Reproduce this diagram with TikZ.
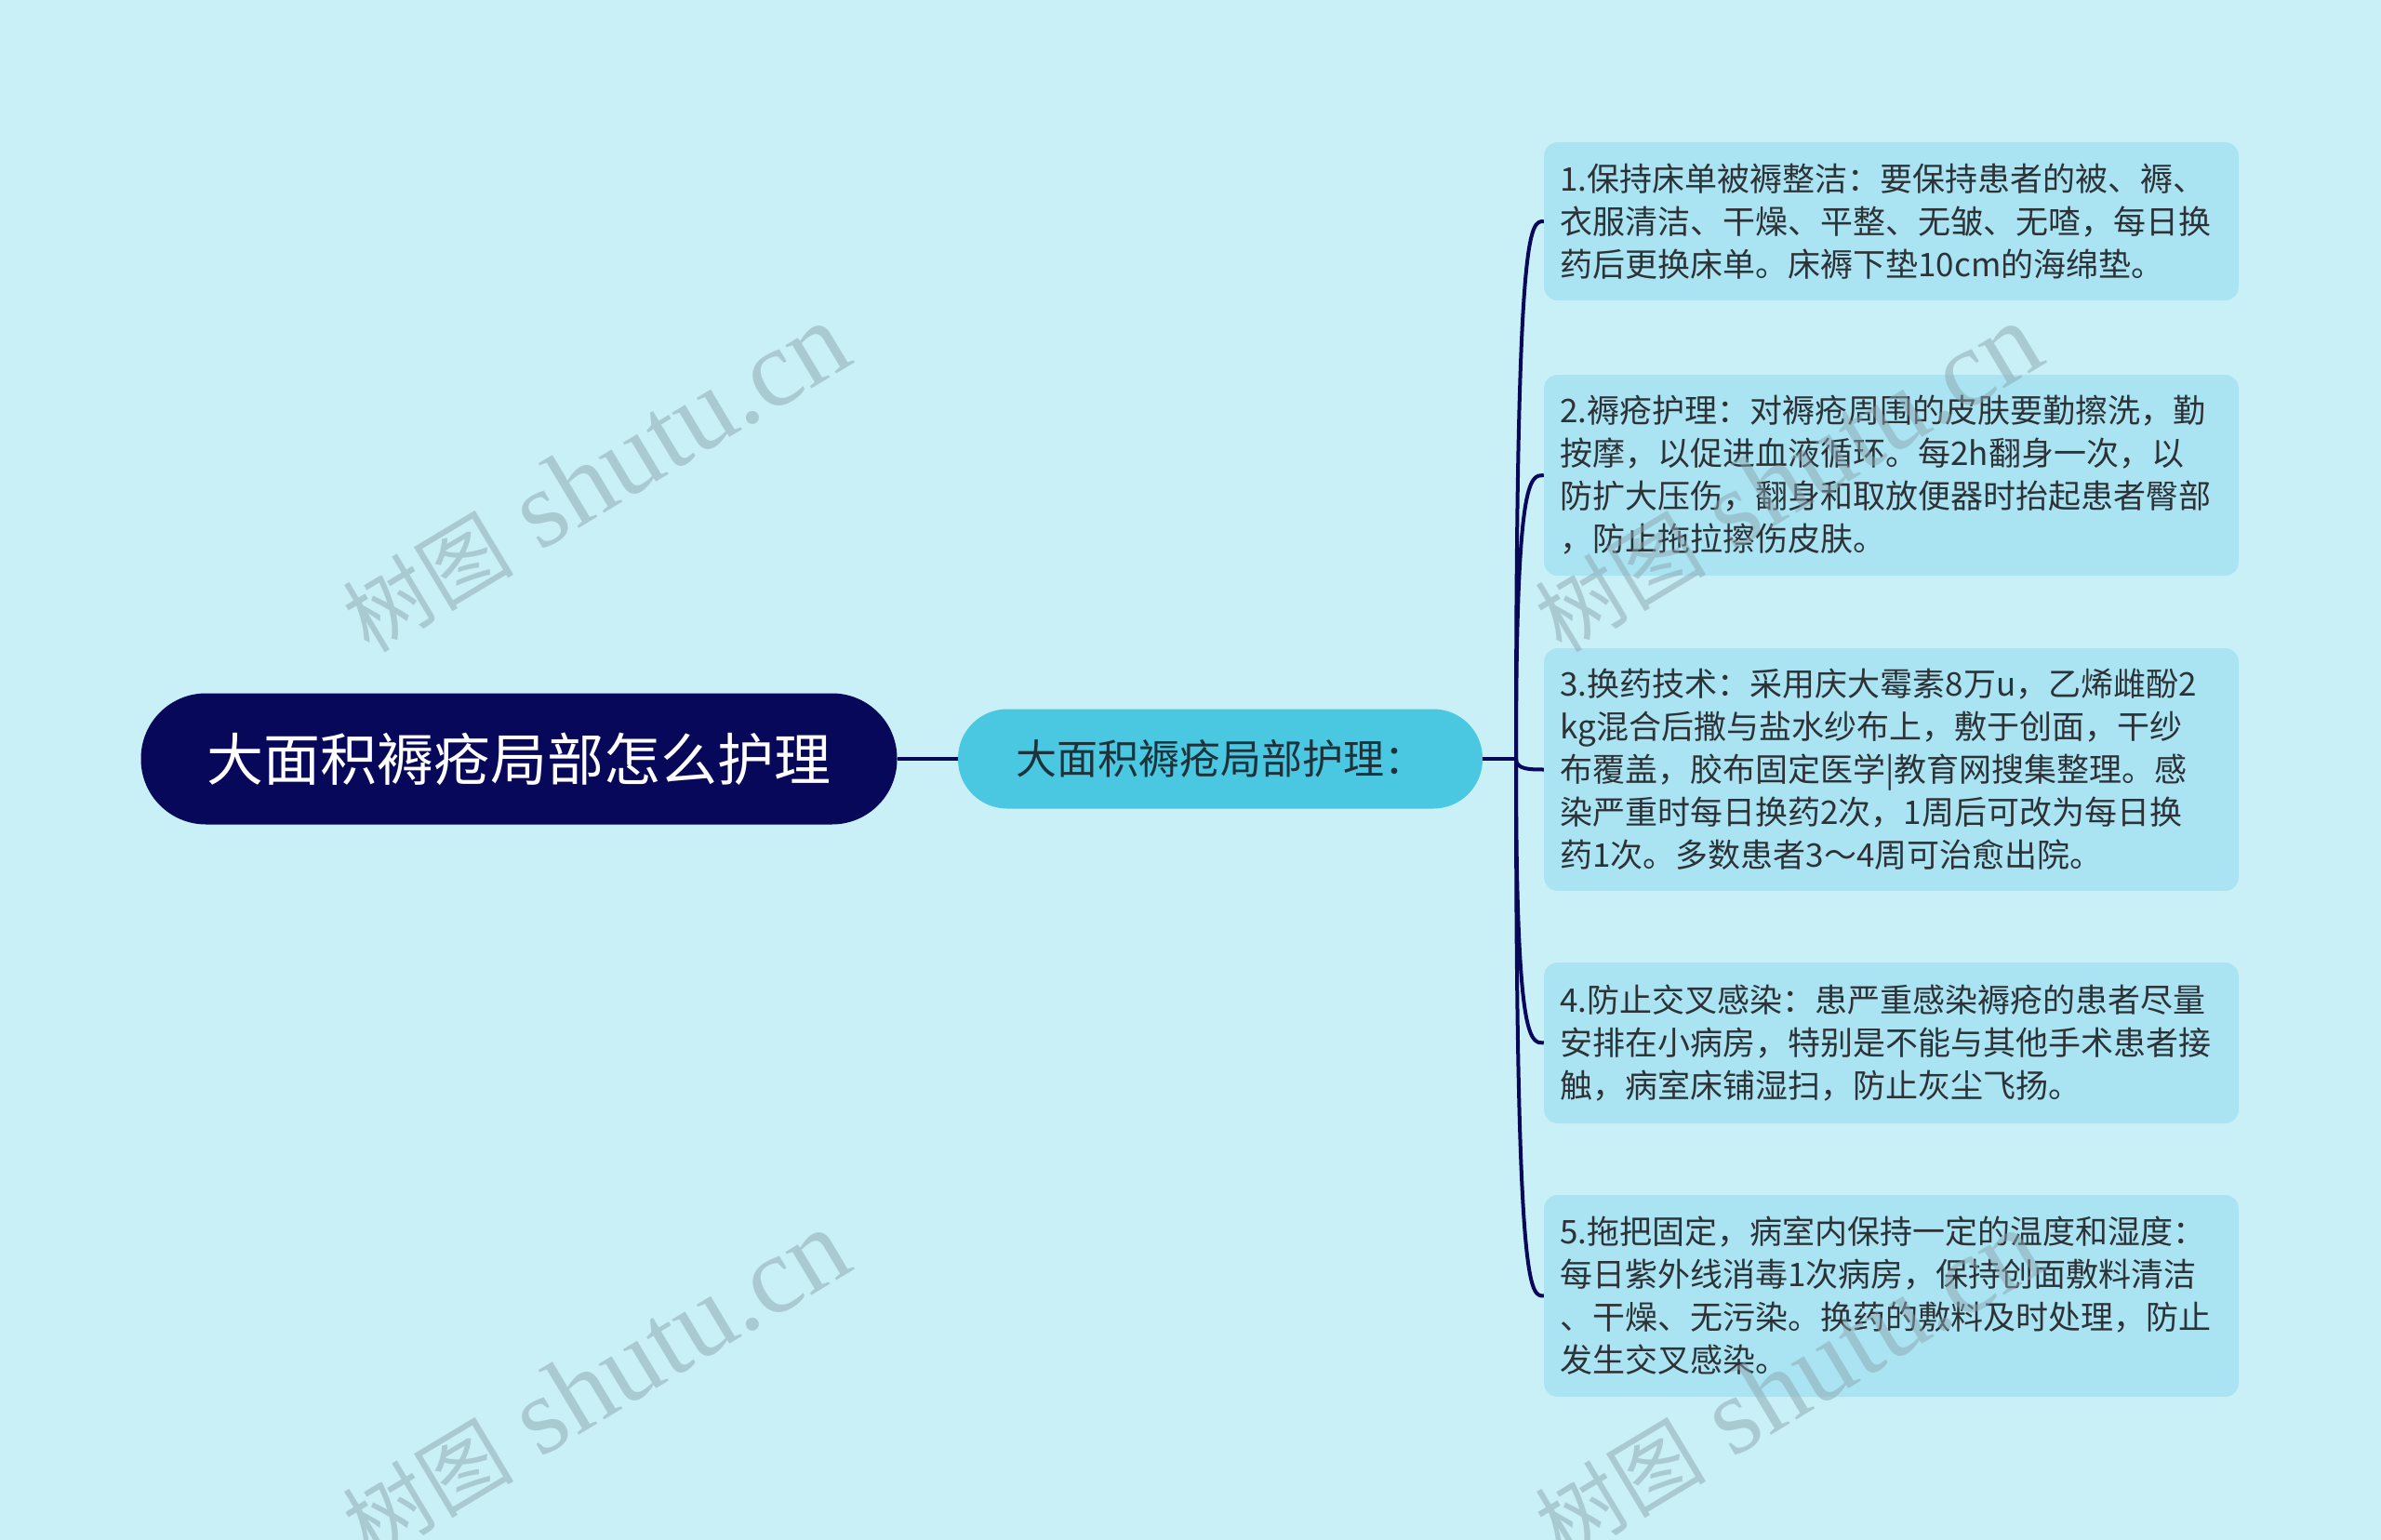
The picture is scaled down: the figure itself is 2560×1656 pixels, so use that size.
\documentclass[tikz,border=0pt]{standalone}
\usepackage{fontspec}
\setmainfont{Liberation Serif}
\newfontfamily\cjk{Noto Sans CJK SC}
\definecolor{bgc}{RGB}{201,240,247}
\definecolor{navy}{RGB}{8,8,90}
\definecolor{brc}{RGB}{74,200,225}
\definecolor{leafc}{RGB}{170,228,242}
\definecolor{txtc}{RGB}{45,50,55}
\definecolor{brtxt}{RGB}{30,50,60}
\definecolor{wmc}{RGB}{140,165,175}
\tikzset{
  rootbox/.style={draw=none, fill=navy, rounded corners=70pt, minimum width=813pt, minimum height=141pt, text=white, font=\cjk\fontsize{61pt}{70pt}\selectfont},
  branchbox/.style={draw=none, fill=brc, rounded corners=53pt, minimum width=564pt, minimum height=107pt, text=brtxt, font=\cjk\fontsize{44pt}{50pt}\selectfont},
  leafbox/.style={draw=none, fill=leafc, rounded corners=15pt, minimum width=747pt, text width=712pt, inner xsep=17.5pt, align=left, text=txtc, font=\cjk\fontsize{35pt}{46pt}\selectfont},
  conn/.style={draw=navy, line width=4pt},
  wmark/.style={text=wmc, text opacity=0.5, rotate=31, font=\fontsize{118pt}{120pt}\selectfont}
}
\begin{document}
\begin{tikzpicture}[x=1pt,y=-1pt]
\fill[bgc] (0,0) rectangle (2560,1656);
\useasboundingbox (0,0) rectangle (2560,1656);
% nodes
\node[rootbox] (root) at (558,816) {大面积褥疮局部怎么护理};
\node[branchbox] (br) at (1312,816) {大面积褥疮局部护理：};
\coordinate (bus) at (1630,816);
\node[leafbox, minimum height=170pt] (l1) at (2033.5,238) {1.保持床单被褥整洁：要保持患者的被、褥、\\衣服清洁、干燥、平整、无皱、无喳，每日换\\药后更换床单。床褥下垫10cm的海绵垫。};
\node[leafbox, minimum height=216pt] (l2) at (2033.5,511) {2.褥疮护理：对褥疮周围的皮肤要勤擦洗，勤\\按摩，以促进血液循环。每2h翻身一次，以\\防扩大压伤，翻身和取放便器时抬起患者臀部\\，防止拖拉擦伤皮肤。};
\node[leafbox, minimum height=261pt] (l3) at (2033.5,827.5) {3.换药技术：采用庆大霉素8万u，乙烯雌酚2\\kg混合后撒与盐水纱布上，敷于创面，干纱\\布覆盖，胶布固定医学|教育网搜集整理。感\\染严重时每日换药2次，1周后可改为每日换\\药1次。多数患者3～4周可治愈出院。};
\node[leafbox, minimum height=173pt] (l4) at (2033.5,1121.5) {4.防止交叉感染：患严重感染褥疮的患者尽量\\安排在小病房，特别是不能与其他手术患者接\\触，病室床铺湿扫，防止灰尘飞扬。};
\node[leafbox, minimum height=217pt] (l5) at (2033.5,1393.5) {5.拖把固定，病室内保持一定的温度和湿度：\\每日紫外线消毒1次病房，保持创面敷料清洁\\、干燥、无污染。换药的敷料及时处理，防止\\发生交叉感染。};
% connectors
\draw[conn] (root.east) -- (br.west);
\draw[conn] (br.east) -- (bus);
\foreach \n in {l1,l2,l3,l4,l5}{
  \draw[conn] (bus) .. controls (bus |- \n.west) and ([xshift=-15pt]\n.west) .. (\n.west);
}
% watermarks
\node[wmark] (w1) at (640,514) {{\cjk\fontsize{92pt}{100pt}\selectfont 树图} shutu.cn};
\node[wmark] (w2) at (640,1489) {{\cjk\fontsize{92pt}{100pt}\selectfont 树图} shutu.cn};
\node[wmark] (w3) at (1922,514) {{\cjk\fontsize{92pt}{100pt}\selectfont 树图} shutu.cn};
\node[wmark] (w4) at (1922,1489) {{\cjk\fontsize{92pt}{100pt}\selectfont 树图} shutu.cn};
\end{tikzpicture}
\end{document}
